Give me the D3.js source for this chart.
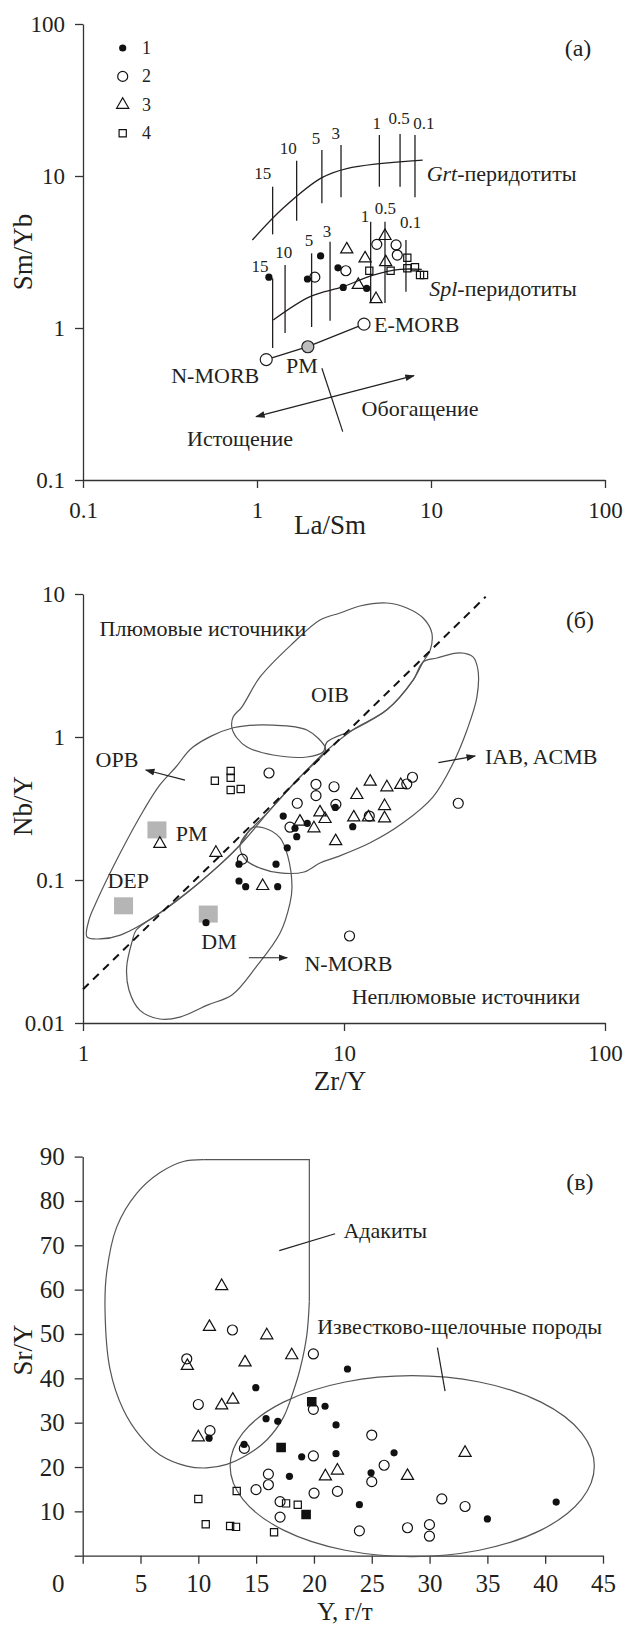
<!DOCTYPE html>
<html>
<head>
<meta charset="utf-8">
<script src="https://cdn.jsdelivr.net/npm/d3@7"></script>
<style>
body { margin: 0; background: #fff; }
text { font-family: "Liberation Serif", "Times New Roman", serif; fill: #231f20; }
</style>
</head>
<body>
<div id="chart"></div>
<script>
// ---------- panel (а): La/Sm vs Sm/Yb ----------
var aFilled = [[1.17,2.16],[1.95,2.10],[2.32,2.98],[2.92,2.49],[3.13,1.85],[4.27,1.82]];
var aOpen   = [[2.15,2.16],[3.24,2.38],[4.88,3.55],[6.30,3.52],[6.40,3.02]];
var aTri    = [[3.28,3.29],[4.18,2.87],[3.82,1.92],[5.44,4.03],[5.49,2.71],[4.83,1.55]];
var aSq     = [[4.42,2.38],[5.86,2.38],[7.31,2.90],[7.31,2.47],[8.09,2.51],[8.65,2.23],[9.12,2.23]];

var meltLabels = ["15","10","5","3","1","0.5","0.1"];
var grtCurve = [[0.94,3.79],[1.41,6.13],[2.36,9.75],[3.28,11.2],[8.96,12.7]];
var grtX   = [1.23,1.69,2.36,3.04,5.05,6.64,8.09];
var grtTop = [8.5,12.6,14.8,16.0,18.6,18.9,18.6];
var grtBot = [4.13,5.08,6.61,7.24,8.5,8.5,7.24];
var splCurve = [[1.24,1.13],[2.02,1.61],[3.13,1.87],[4.66,2.23],[6.64,2.43],[8.85,2.43]];
var splX   = [1.23,1.45,2.06,2.63,4.50,5.44,7.18];
var splTop = [2.12,2.60,3.10,3.70,5.0,5.0,3.79];
var splBot = [0.739,0.927,1.015,1.117,1.46,1.46,1.73];

var morbNames = ["N-MORB","PM","E-MORB"];
var morbX = [1.13,1.96,4.12];
var morbY = [0.62,0.753,1.06];

// ---------- panel (б): Zr/Y vs Nb/Y ----------
var bOpen = [[5.16,0.560],[7.81,0.467],[7.81,0.389],[9.16,0.449],[6.62,0.344],[9.31,0.338],[6.21,0.234],
             [12.5,0.280],[17.4,0.469],[18.3,0.523],[27.4,0.344],[4.08,0.140],[10.5,0.0406]];
var bFilled = [[5.85,0.280],[6.49,0.230],[7.23,0.249],[6.59,0.201],[6.06,0.168],[9.26,0.322],[10.8,0.236],
               [3.96,0.129],[5.49,0.129],[3.96,0.0984],[4.20,0.0898],[5.57,0.0898],[2.96,0.0503]];
var bTri = [[1.97,0.179],[3.23,0.155],[6.78,0.256],[7.67,0.230],[8.09,0.297],[8.46,0.267],[9.29,0.187],
            [11.2,0.393],[12.6,0.487],[14.6,0.445],[16.5,0.462],[10.9,0.274],[12.4,0.274],[14.3,0.329],
            [14.3,0.270],[4.88,0.0908]];
var bSq = [[3.20,0.495],[3.68,0.578],[3.68,0.519],[3.68,0.426],[4.02,0.433]];
var bRefNames = ["PM","DEP","DM"];
var bRefX = [1.92,1.43,3.02];
var bRefY = [0.224,0.066,0.0578];
var deltaNbLine = [[1,0.0172],[34.9,9.57]];

// field outlines (б)
var sharedEdge = [[1.036,0.040],[1.16,0.0387],[1.39,0.0412],[1.97,0.0588],[2.81,0.0968],[4.0,0.176],
                  [5.21,0.309],[6.78,0.525],[8.46,0.785],[10.8,1.12],[14.6,1.55],[18.4,2.50],
                  [20.1,3.35],[21.4,4.06],[21.7,5.34]];
var opbTop = [[8.46,0.851],[7.21,1.12],[5.35,1.21],[3.76,1.16],[2.64,0.851],[2.27,0.617],[1.97,0.462],
              [1.71,0.309],[1.39,0.155],[1.12,0.069],[1.054,0.0525]];
var oibRest = [[20.1,6.79],[17.4,7.98],[14.6,8.65],[11.5,8.24],[9.66,7.36],[8.09,6.58],[6.38,4.54],
               [4.77,2.63],[4.06,1.62],[3.76,1.38],[3.72,1.16],[3.89,0.984],[4.25,0.851],[5.35,0.748],
               [7.21,0.725],[8.31,0.785],[8.61,0.923]];
var iabRest = [[22.7,3.57],[27.8,3.87],[31.2,3.63],[32.6,2.94],[32.3,1.90],[29.6,1.12],[26.2,0.658],
               [21.9,0.380],[16.8,0.250],[12.6,0.182],[9.4,0.145],[8.09,0.1315],[7.03,0.1138],
               [5.69,0.112],[4.77,0.121],[4.21,0.138]];
var nmorbRest = [[4.44,0.231],[4.94,0.231],[5.69,0.197],[6.10,0.145],[6.32,0.0893],[6.21,0.069],
                 [5.69,0.0426],[4.60,0.0246],[3.72,0.0157],[3.01,0.0134],[2.35,0.0110],[1.97,0.01067],
                 [1.65,0.0123],[1.50,0.0170],[1.47,0.0246],[1.54,0.0368],[1.60,0.0447]];

// ---------- panel (в): Y vs Sr/Y ----------
var vTri = [[12.02,60.8],[10.96,51.6],[15.92,49.7],[18.08,45.2],[14.04,43.6],[9.05,42.8],[12.98,35.2],
            [12.02,33.9],[10.0,26.7],[22.03,19.2],[20.99,17.9],[28.09,18.0],[33.07,23.2]];
var vOpen = [[9.0,44.4],[12.95,50.9],[10.0,34.1],[11.01,28.2],[13.98,24.2],[19.95,45.5],[19.95,33.0],
             [19.95,22.5],[16.06,18.4],[16.06,16.0],[14.99,14.9],[17.07,12.2],[17.07,8.7],[20.01,14.1],
             [25.0,27.2],[26.07,20.4],[25.0,16.7],[22.03,14.5],[23.93,5.6],[28.09,6.3],[29.99,7.0],
             [29.99,4.4],[31.06,12.8],[33.07,11.1]];
var vFilled = [[14.97,37.9],[15.86,30.9],[16.87,30.3],[10.93,26.5],[13.96,25.1],[17.88,17.9],[18.94,22.3],
               [22.9,42.1],[20.96,33.7],[21.91,29.5],[21.91,23.0],[26.93,23.2],[24.94,18.7],[23.93,11.5],
               [35.0,8.3],[40.95,12.1]];
var vSqFilled = [[17.16,24.4],[19.81,34.7],[19.32,9.3]];
var vSq = [[10.0,12.8],[10.64,7.1],[12.75,6.7],[13.26,6.5],[13.32,14.6],[16.55,5.3],[17.59,11.8],[18.6,11.5]];

var adakiteEdge = [[10.44,89.3],[19.6,89.3],[19.6,57.3]];
var adakiteCurve = [[19.6,57.3],[19.38,49.7],[18.8,42.1],[18.22,37.1],[17.36,31.2],[15.92,26.1],[14.19,22.7],
                    [12.46,20.6],[10.73,19.8],[9.0,20.2],[6.69,22.7],[4.96,27.0],[3.52,32.9],[2.36,42.1],
                    [1.93,55.6],[2.08,64.0],[2.94,74.1],[4.67,81.7],[6.69,86.4],[8.71,88.9],[10.44,89.3]];
var calcAlkCenter = [28.5,20.2];
var calcAlkRadius = [15.75,20.4];

var vTicksX = [0,5,10,15,20,25,30,35,40,45];
var vTicksY = [0,10,20,30,40,50,60,70,80,90];

// ---------- drawing ----------
var svg = d3.select("#chart").append("svg").attr("width", 626).attr("height", 1626);
var defs = svg.append("defs");
defs.append("marker").attr("id", "arr").attr("viewBox", "0 0 10 10")
    .attr("refX", 9).attr("refY", 5).attr("markerWidth", 8).attr("markerHeight", 8)
    .attr("orient", "auto-start-reverse")
    .append("path").attr("d", "M0,1.5L10,5L0,8.5Z").attr("fill", "#222");

var INK = "#231f20", FIELD = "#555";

function styleAxis(fs) {
  return function (g) {
    g.attr("font-family", null).attr("font-size", null);
    g.select(".domain").attr("stroke", "#333").attr("stroke-width", 1.3);
    g.selectAll(".tick line").attr("stroke", "#333").attr("stroke-width", 1.3);
    g.selectAll(".tick text").style("font-size", fs + "px").attr("fill", INK);
  };
}

function marks(g, x, y, pts, kind) {
  var sel = g.selectAll(null).data(pts).enter();
  if (kind == "filled") {
    sel.append("circle").attr("cx", d => x(d[0])).attr("cy", d => y(d[1])).attr("r", 3.6).attr("fill", "#111");
  } else if (kind == "open") {
    sel.append("circle").attr("cx", d => x(d[0])).attr("cy", d => y(d[1])).attr("r", 5)
       .attr("fill", "none").attr("stroke", "#111").attr("stroke-width", 1.2);
  } else {
    var type = kind == "tri" ? d3.symbolTriangle : d3.symbolSquare;
    var size = kind == "tri" ? 64 : (kind == "sqf" ? 70 : 52);
    sel.append("path").attr("transform", d => "translate(" + x(d[0]) + "," + y(d[1]) + ")")
       .attr("d", d3.symbol().type(type).size(size))
       .attr("fill", kind == "sqf" ? "#111" : "none").attr("stroke", "#111").attr("stroke-width", 1.2);
  }
}

function label(g, px, py, txt, size, anchor) {
  return g.append("text").attr("x", px).attr("y", py).attr("text-anchor", anchor || "middle")
    .attr("dominant-baseline", "central").style("font-size", size + "px").text(txt);
}

function arrow(g, p1, p2, head) {
  var l = g.append("line").attr("x1", p1[0]).attr("y1", p1[1]).attr("x2", p2[0]).attr("y2", p2[1])
    .attr("stroke", "#222").attr("stroke-width", 1.2);
  if (head) l.attr("marker-end", "url(#arr)");
  if (head == 2) l.attr("marker-start", "url(#arr)");
  return l;
}

function yTitle(cy, txt) {
  svg.append("text").attr("transform", "translate(23," + cy + ") rotate(-90)")
    .attr("text-anchor", "middle").attr("dominant-baseline", "central").style("font-size", "27px").text(txt);
}
function xTitle(cx, cy, txt, fs) {
  label(svg, cx, cy, txt, fs || 27);
}

// ===== panel (а) =====
var xA = d3.scaleLog().domain([0.1, 100]).range([83, 605]);
var yA = d3.scaleLog().domain([0.1, 100]).range([480, 24]);
var gA = svg.append("g");
var fmt = d3.format("~g");
gA.append("g").attr("transform", "translate(0,480)")
  .call(d3.axisBottom(xA).tickValues([0.1, 1, 10, 100]).tickFormat(fmt).tickSize(8).tickSizeOuter(0).tickPadding(14))
  .call(styleAxis(23));
gA.append("g").attr("transform", "translate(83,0)")
  .call(d3.axisLeft(yA).tickValues([0.1, 1, 10, 100]).tickFormat(fmt).tickSize(8).tickSizeOuter(0).tickPadding(10))
  .call(styleAxis(23));
yTitle(252, "Sm/Yb");
xTitle(330, 525, "La/Sm");
label(gA, xA(70), yA(69.5), "(а)", 24);

// legend
var legKinds = ["filled", "open", "tri", "sq"];
legKinds.forEach(function (k, i) {
  var ly = 48 + i * 28.4;
  marks(gA, d => 122.7, d => ly, [[0, 0]], k);
  label(gA, 142, ly, String(i + 1), 18, "start");
});

var curve = d3.line().x(d => xA(d[0])).y(d => yA(d[1])).curve(d3.curveCatmullRom);
gA.append("path").attr("d", curve(grtCurve)).attr("fill", "none").attr("stroke", INK).attr("stroke-width", 1.3);
gA.append("path").attr("d", curve(splCurve)).attr("fill", "none").attr("stroke", INK).attr("stroke-width", 1.3);

var grtDx = [-10, -8.4, -6, -5.3, -2.6, -1, 9], grtDy = [-13.4, -12.7, -11.7, -11.7, -11.7, -15.7, -11.7];
var splDx = [-12.7, -1.3, -2.7, -3, -5.7, 0.3, 4.7], splDy = [-11.6, -12, -13.3, -10, -5, -13.4, -17.3];
meltLabels.forEach(function (m, i) {
  gA.append("line").attr("x1", xA(grtX[i])).attr("x2", xA(grtX[i])).attr("y1", yA(grtTop[i])).attr("y2", yA(grtBot[i]))
    .attr("stroke", INK).attr("stroke-width", 1.3);
  label(gA, xA(grtX[i]) + grtDx[i], yA(grtTop[i]) + grtDy[i], m, 17);
  gA.append("line").attr("x1", xA(splX[i])).attr("x2", xA(splX[i])).attr("y1", yA(splTop[i])).attr("y2", yA(splBot[i]))
    .attr("stroke", INK).attr("stroke-width", 1.3);
  label(gA, xA(splX[i]) + splDx[i], yA(splTop[i]) + splDy[i], m, 17);
});
var tg = label(gA, xA(9.44), yA(10.4), "", 22, "start");
tg.append("tspan").style("font-style", "italic").text("Grt");
tg.append("tspan").text("-перидотиты");
var ts = label(gA, xA(9.77), yA(1.82), "", 22, "start");
ts.append("tspan").style("font-style", "italic").text("Spl");
ts.append("tspan").text("-перидотиты");

// N-MORB – PM – E-MORB line
gA.append("path").attr("d", d3.line()(morbX.map((v, i) => [xA(v), yA(morbY[i])])))
  .attr("fill", "none").attr("stroke", INK).attr("stroke-width", 1.3);
morbNames.forEach(function (n, i) {
  gA.append("circle").attr("cx", xA(morbX[i])).attr("cy", yA(morbY[i])).attr("r", 6)
    .attr("fill", n == "PM" ? "#bdbdbd" : "#fff").attr("stroke", INK).attr("stroke-width", 1.2);
});
label(gA, xA(morbX[0]) - 7, yA(morbY[0]) + 16, "N-MORB", 22, "end");
label(gA, xA(morbX[1]) - 6, yA(morbY[1]) + 19, "PM", 22);
label(gA, xA(morbX[2]) + 10, yA(morbY[2]), "E-MORB", 22, "start");

gA.append("line").attr("x1", xA(2.36)).attr("y1", yA(0.543)).attr("x2", xA(3.11)).attr("y2", yA(0.208))
  .attr("stroke", INK).attr("stroke-width", 1.2);
arrow(gA, [xA(0.987), yA(0.261)], [xA(7.98), yA(0.486)], 2);
label(gA, xA(8.65), yA(0.296), "Обогащение", 22);
label(gA, xA(0.799), yA(0.188), "Истощение", 22);

marks(gA, xA, yA, aSq, "sq");
marks(gA, xA, yA, aTri, "tri");
marks(gA, xA, yA, aOpen, "open");
marks(gA, xA, yA, aFilled, "filled");

// ===== panel (б) =====
var xB = d3.scaleLog().domain([1, 100]).range([83, 605]);
var yB = d3.scaleLog().domain([0.01, 10]).range([1023, 594]);
var gB = svg.append("g");
gB.append("g").attr("transform", "translate(0,1023)")
  .call(d3.axisBottom(xB).tickValues([1, 10, 100]).tickFormat(fmt).tickSize(8).tickSizeOuter(0).tickPadding(14))
  .call(styleAxis(23));
gB.append("g").attr("transform", "translate(83,0)")
  .call(d3.axisLeft(yB).tickValues([0.01, 0.1, 1, 10]).tickFormat(fmt).tickSize(8).tickSizeOuter(0).tickPadding(10))
  .call(styleAxis(23));
yTitle(806, "Nb/Y");
xTitle(340, 1081, "Zr/Y");

var fieldLine = d3.line().x(d => xB(d[0])).y(d => yB(d[1])).curve(d3.curveCatmullRomClosed.alpha(0.5));
var fields = [
  opbTop.concat(sharedEdge.slice(0, 9)),
  sharedEdge.slice(9).concat(oibRest),
  sharedEdge.slice(5, 13).concat(iabRest),
  [sharedEdge[5]].concat(nmorbRest, sharedEdge.slice(3, 5))
];
fields.forEach(function (f) {
  gB.append("path").attr("d", fieldLine(f)).attr("fill", "none").attr("stroke", FIELD).attr("stroke-width", 1.2);
});

gB.append("path").attr("d", d3.line().x(d => xB(d[0])).y(d => yB(d[1]))(deltaNbLine))
  .attr("stroke", "#111").attr("stroke-width", 2).attr("stroke-dasharray", "8,6").attr("fill", "none");

bRefNames.forEach(function (n, i) {
  gB.append("rect").attr("x", xB(bRefX[i]) - 9.5).attr("y", yB(bRefY[i]) - 8.5).attr("width", 19).attr("height", 17)
    .attr("fill", "#b5b5b5");
});

label(gB, xB(2.88), yB(5.78), "Плюмовые источники", 22);
label(gB, xB(8.84), yB(1.97), "OIB", 22);
label(gB, xB(1.35), yB(0.691), "OPB", 22);
arrow(gB, [xB(2.46), yB(0.500)], [xB(1.74), yB(0.588)], 1);
label(gB, xB(34.7), yB(0.728), "IAB, ACMB", 22, "start");
arrow(gB, [xB(23.0), yB(0.661)], [xB(31.8), yB(0.736)], 1);
label(gB, xB(2.61), yB(0.21), "PM", 22);
label(gB, xB(1.49), yB(0.1), "DEP", 22);
label(gB, xB(3.32), yB(0.037), "DM", 22);
label(gB, xB(10.4), yB(0.0259), "N-MORB", 22);
arrow(gB, [xB(4.32), yB(0.0286)], [xB(6.06), yB(0.0286)], 1);
label(gB, xB(29.3), yB(0.0152), "Неплюмовые источники", 22);
label(gB, xB(80.2), yB(6.58), "(б)", 24);

marks(gB, xB, yB, bSq, "sq");
marks(gB, xB, yB, bTri, "tri");
marks(gB, xB, yB, bOpen, "open");
marks(gB, xB, yB, bFilled, "filled");

// ===== panel (в) =====
var xV = d3.scaleLinear().domain([0, 45]).range([82.7, 603]);
var yV = d3.scaleLinear().domain([0, 90]).range([1555.7, 1156.6]);
var gV = svg.append("g");
var axX = gV.append("g").attr("transform", "translate(0,1555.7)")
  .call(d3.axisBottom(xV).tickValues(vTicksX).tickSize(8).tickSizeOuter(0).tickPadding(11))
  .call(styleAxis(25));
axX.selectAll(".tick text").filter(d => d === 0).attr("x", -25);
gV.append("g").attr("transform", "translate(82.7,0)")
  .call(d3.axisLeft(yV).tickValues(vTicksY).tickFormat(d => d === 0 ? "" : d).tickSize(8).tickSizeOuter(0).tickPadding(10))
  .call(styleAxis(25));
yTitle(1350, "Sr/Y");
xTitle(345, 1611, "Y, г/т", 25);

var lineV = d3.line().x(d => xV(d[0])).y(d => yV(d[1]));
gV.append("path").attr("d", lineV(adakiteEdge)).attr("fill", "none").attr("stroke", FIELD).attr("stroke-width", 1.2);
gV.append("path").attr("d", lineV.curve(d3.curveCatmullRom)(adakiteCurve)).attr("fill", "none")
  .attr("stroke", FIELD).attr("stroke-width", 1.2);
gV.append("ellipse").attr("cx", xV(calcAlkCenter[0])).attr("cy", yV(calcAlkCenter[1]))
  .attr("rx", xV(calcAlkCenter[0] + calcAlkRadius[0]) - xV(calcAlkCenter[0]))
  .attr("ry", yV(calcAlkCenter[1] - calcAlkRadius[1]) - yV(calcAlkCenter[1]))
  .attr("fill", "none").attr("stroke", FIELD).attr("stroke-width", 1.2);

label(gV, xV(22.55), yV(73.3), "Адакиты", 22, "start");
arrow(gV, [xV(17.0), yV(68.8)], [xV(21.83), yV(72.6)], 0);
label(gV, xV(32.6), yV(51.6), "Известково-щелочные породы", 22);
arrow(gV, [xV(30.68), yV(46.9)], [xV(31.34), yV(37.1)], 0);
label(gV, xV(43.0), yV(84.3), "(в)", 24);

marks(gV, xV, yV, vSq, "sq");
marks(gV, xV, yV, vSqFilled, "sqf");
marks(gV, xV, yV, vTri, "tri");
marks(gV, xV, yV, vOpen, "open");
marks(gV, xV, yV, vFilled, "filled");
</script>
</body>
</html>
